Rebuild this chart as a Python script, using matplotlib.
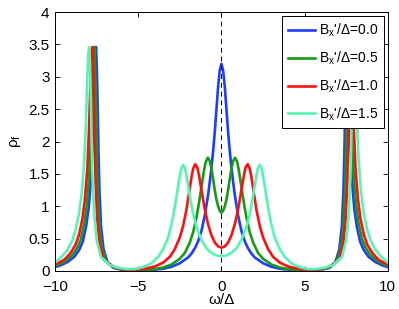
import matplotlib
matplotlib.use("Agg")
import matplotlib.pyplot as plt

plt.rcParams['font.family'] = ['Liberation Sans', 'DejaVu Sans']
plt.rcParams['mathtext.fontset'] = 'custom'
plt.rcParams['mathtext.rm'] = 'Liberation Sans'
plt.rcParams['mathtext.it'] = 'Liberation Sans:italic'

# =========================================================
# DATA
# =========================================================

labels = ["B$_\\mathregular{x}$'/Δ=0.0", "B$_\\mathregular{x}$'/Δ=0.5",
          "B$_\\mathregular{x}$'/Δ=1.0", "B$_\\mathregular{x}$'/Δ=1.5"]
colors = ["#1f3dff", "#169b16", "#ff1010", "#55f5b4"]

blue_x = [-10.0, -9.64, -9.24, -8.84, -8.54, -8.34, -8.14, -7.99, -7.84, -7.74, -7.69,
          -7.64, -7.59, -7.54, -7.49, -7.44, -7.39, -7.34, -7.24, -7.09, -6.84, -6.5,
          -6.0, -5.5, -5.0, -4.5, -4.0, -3.5, -3.0, -2.5, -2.0, -1.8, -1.6, -1.4, -1.2,
          -1.0, -0.8, -0.7, -0.6, -0.5, -0.4, -0.3, -0.2, -0.1,
          0.0, 0.1, 0.2, 0.3, 0.4, 0.5, 0.6, 0.7, 0.8, 1.0, 1.2, 1.4, 1.6, 1.8, 2.0,
          2.5, 3.0, 3.5, 4.0, 4.5, 5.0, 5.5, 6.0, 6.5, 6.84, 7.09, 7.24, 7.34, 7.39,
          7.44, 7.49, 7.54, 7.59, 7.64, 7.69, 7.74, 7.84, 7.99, 8.14, 8.34, 8.54, 8.84,
          9.24, 9.64, 10.0]
blue_y = [0.06, 0.09, 0.14, 0.22, 0.33, 0.45, 0.68, 0.95, 1.40, 2.00, 2.50,
          2.95, 3.30, 3.46, 3.15, 2.55, 1.85, 1.30, 0.70, 0.34, 0.13, 0.05,
          0.02, 0.01, 0.008, 0.01, 0.02, 0.035, 0.065, 0.12, 0.21, 0.27, 0.35, 0.46, 0.62,
          0.86, 1.18, 1.38, 1.60, 1.85, 2.15, 2.50, 2.85, 3.10,
          3.20, 3.10, 2.85, 2.50, 2.15, 1.85, 1.60, 1.38, 1.18, 0.86, 0.62, 0.46, 0.35, 0.27, 0.21,
          0.12, 0.065, 0.035, 0.02, 0.01, 0.008, 0.01, 0.02, 0.05, 0.13, 0.34, 0.70, 1.30, 1.85,
          2.55, 3.15, 3.46, 3.30, 2.95, 2.50, 2.00, 1.40, 0.95, 0.68, 0.45, 0.33, 0.22,
          0.14, 0.09, 0.06]

green_x = [-10.0, -9.7, -9.34, -8.94, -8.64, -8.44, -8.24, -8.09, -7.94, -7.84, -7.79, -7.74,
           -7.69, -7.64, -7.59, -7.54, -7.49, -7.44, -7.34, -7.19, -6.94, -6.5, -6.0, -5.5,
           -5.0, -4.5, -4.0, -3.5, -3.0, -2.5, -2.2, -1.9, -1.7, -1.5, -1.35, -1.2, -1.05,
           -0.95, -0.82, -0.7, -0.6, -0.5, -0.4, -0.3, -0.2, -0.1,
           0.0, 0.1, 0.2, 0.3, 0.4, 0.5, 0.6, 0.7, 0.82, 0.95, 1.05, 1.2, 1.35, 1.5, 1.7,
           1.9, 2.2, 2.5, 3.0, 3.5, 4.0, 4.5, 5.0, 5.5, 6.0, 6.5, 6.94, 7.19, 7.34, 7.44,
           7.49, 7.54, 7.59, 7.64, 7.69, 7.74, 7.79, 7.84, 7.94, 8.09, 8.24, 8.44, 8.64,
           8.94, 9.34, 9.7, 10.0]
green_y = [0.08, 0.11, 0.16, 0.25, 0.37, 0.50, 0.74, 1.02, 1.50, 2.12, 2.58, 3.00,
           3.32, 3.46, 3.15, 2.55, 1.85, 1.30, 0.72, 0.36, 0.15, 0.06, 0.025, 0.012,
           0.01, 0.017, 0.03, 0.055, 0.10, 0.19, 0.28, 0.44, 0.60, 0.83, 1.05, 1.30, 1.55,
           1.68, 1.75, 1.70, 1.58, 1.42, 1.25, 1.10, 1.00, 0.93,
           0.90, 0.93, 1.00, 1.10, 1.25, 1.42, 1.58, 1.70, 1.75, 1.68, 1.55, 1.30, 1.05, 0.83, 0.60,
           0.44, 0.28, 0.19, 0.10, 0.055, 0.03, 0.017, 0.01, 0.012, 0.025, 0.06, 0.15, 0.36, 0.72, 1.30,
           1.85, 2.55, 3.15, 3.46, 3.32, 3.00, 2.58, 2.12, 1.50, 1.02, 0.74, 0.50, 0.37,
           0.25, 0.16, 0.11, 0.08]

red_x = [-10.0, -9.46, -9.06, -8.76, -8.56, -8.36, -8.21, -8.06, -7.96, -7.91, -7.86, -7.81,
         -7.76, -7.71, -7.66, -7.61, -7.56, -7.46, -7.31, -7.06, -6.5, -6.0, -5.5, -5.0,
         -4.5, -4.0, -3.5, -3.1, -2.8, -2.5, -2.3, -2.1, -1.95, -1.8, -1.7, -1.58, -1.45,
         -1.35, -1.2, -1.0, -0.8, -0.6, -0.4, -0.2,
         0.0, 0.2, 0.4, 0.6, 0.8, 1.0, 1.2, 1.35, 1.45, 1.58, 1.7, 1.8, 1.95, 2.1, 2.3,
         2.5, 2.8, 3.1, 3.5, 4.0, 4.5, 5.0, 5.5, 6.0, 6.5, 7.06, 7.31, 7.46, 7.56, 7.61,
         7.66, 7.71, 7.76, 7.81, 7.86, 7.91, 7.96, 8.06, 8.21, 8.36, 8.56, 8.76, 9.06,
         9.46, 10.0]
red_y = [0.10, 0.17, 0.28, 0.41, 0.56, 0.80, 1.10, 1.58, 2.18, 2.62, 3.02, 3.34,
         3.46, 3.18, 2.58, 1.90, 1.35, 0.78, 0.40, 0.17, 0.07, 0.03, 0.02, 0.025,
         0.04, 0.07, 0.13, 0.22, 0.34, 0.52, 0.70, 0.95, 1.20, 1.45, 1.58, 1.65, 1.60,
         1.48, 1.25, 0.95, 0.72, 0.55, 0.44, 0.38,
         0.36, 0.38, 0.44, 0.55, 0.72, 0.95, 1.25, 1.48, 1.60, 1.65, 1.58, 1.45, 1.20, 0.95, 0.70,
         0.52, 0.34, 0.22, 0.13, 0.07, 0.04, 0.025, 0.02, 0.03, 0.07, 0.17, 0.40, 0.78, 1.35, 1.90,
         2.58, 3.18, 3.46, 3.34, 3.02, 2.62, 2.18, 1.58, 1.10, 0.80, 0.56, 0.41, 0.28,
         0.17, 0.10]

cyan_x = [-10.0, -9.6, -9.25, -8.95, -8.75, -8.55, -8.4, -8.25, -8.15, -8.1, -8.05, -8.0,
          -7.95, -7.9, -7.85, -7.8, -7.75, -7.65, -7.5, -7.25, -6.7, -6.2, -5.7, -5.2,
          -4.7, -4.2, -3.8, -3.5, -3.2, -3.0, -2.85, -2.7, -2.55, -2.42, -2.3, -2.18, -2.05,
          -1.9, -1.7, -1.5, -1.2, -0.9, -0.6, -0.3,
          0.0, 0.3, 0.6, 0.9, 1.2, 1.5, 1.7, 1.9, 2.05, 2.18, 2.3, 2.42, 2.55, 2.7, 2.85,
          3.0, 3.2, 3.5, 3.8, 4.2, 4.7, 5.2, 5.7, 6.2, 6.7, 7.25, 7.5, 7.65, 7.75, 7.8,
          7.85, 7.9, 7.95, 8.0, 8.05, 8.1, 8.15, 8.25, 8.4, 8.55, 8.75, 8.95, 9.25,
          9.6, 10.0]
cyan_y = [0.13, 0.22, 0.33, 0.48, 0.65, 0.90, 1.20, 1.68, 2.25, 2.68, 3.06, 3.36,
          3.46, 3.22, 2.65, 2.00, 1.45, 0.88, 0.48, 0.22, 0.09, 0.05, 0.03, 0.03,
          0.06, 0.12, 0.22, 0.34, 0.52, 0.72, 0.92, 1.15, 1.40, 1.58, 1.64, 1.58, 1.40,
          1.15, 0.88, 0.68, 0.48, 0.35, 0.28, 0.24,
          0.23, 0.24, 0.28, 0.35, 0.48, 0.68, 0.88, 1.15, 1.40, 1.58, 1.64, 1.58, 1.40, 1.15, 0.92,
          0.72, 0.52, 0.34, 0.22, 0.12, 0.06, 0.03, 0.03, 0.05, 0.09, 0.22, 0.48, 0.88, 1.45, 2.00,
          2.65, 3.22, 3.46, 3.36, 3.06, 2.68, 2.25, 1.68, 1.20, 0.90, 0.65, 0.48, 0.33,
          0.22, 0.13]

xs = [blue_x, green_x, red_x, cyan_x]
ys = [blue_y, green_y, red_y, cyan_y]

x_ticks = [-10, -5, 0, 5, 10]
y_ticks = [0, 0.5, 1, 1.5, 2, 2.5, 3, 3.5, 4]
y_tick_labels = ["0", "0.5", "1", "1.5", "2", "2.5", "3", "3.5", "4"]

# =========================================================
# PLOT
# =========================================================

fig = plt.figure(figsize=(3.99, 3.09), dpi=100)
ax = fig.add_axes([0.138, 0.123, 0.834, 0.838])

for x, y, c, lab in zip(xs, ys, colors, labels):
    ax.plot(x, y, color=c, lw=1.9, label=lab)

ax.plot([0, 0], [0, 4], color="black", lw=0.7, ls=(0, (5, 4)))

ax.set_xlim(-10, 10)
ax.set_ylim(0, 4)
ax.set_xticks(x_ticks)
ax.set_yticks(y_ticks)
ax.set_yticklabels(y_tick_labels)
ax.tick_params(direction="in", length=3.5, width=0.6, labelsize=11,
               top=True, right=True)
ax.tick_params(axis="x", pad=6.5)
ax.tick_params(axis="y", pad=4)
for s in ax.spines.values():
    s.set_linewidth(0.7)

ax.set_xlabel("ω/Δ", fontsize=11, labelpad=-1)
ax.set_ylabel("ρ$_\\mathregular{f}$", fontsize=11, labelpad=4)

leg = ax.legend(loc="upper right", fontsize=10, frameon=True, fancybox=False,
                edgecolor="black", framealpha=1, handlelength=1.95,
                handletextpad=0.3, labelspacing=0.75, borderpad=0.4,
                borderaxespad=0.3)
leg.get_frame().set_linewidth(0.7)

fig.savefig("out.png", dpi=100)
